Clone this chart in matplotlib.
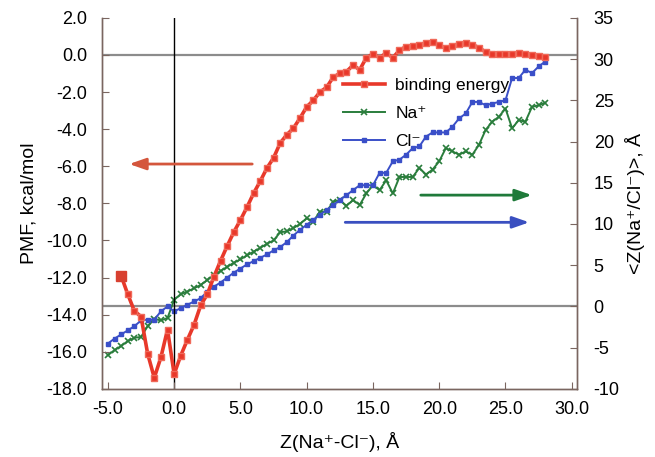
import numpy as np
import matplotlib
matplotlib.use("Agg")
import matplotlib.pyplot as plt

plt.rcParams['font.family'] = ['Liberation Sans', 'DejaVu Sans']

# binding energy (PMF, kcal/mol) on the left axis
red_x = np.arange(-4.0, 28.01, 0.5)
red_y = [-11.9, -12.9, -13.8, -14.1, -16.1, -17.4, -16.3, -14.8, -17.2, -16.2,
         -15.35, -14.55, -13.5, -12.9, -11.95, -11.1, -10.3, -9.55, -8.9, -8.2,
         -7.45, -6.8, -6.1, -5.55, -4.75, -4.3, -3.95, -3.4, -2.8, -2.45,
         -2.0, -1.75, -1.2, -1.0, -0.9, -0.55, -0.8, -0.15, 0.05, -0.15,
         0.1, -0.15, 0.25, 0.45, 0.5, 0.55, 0.65, 0.7, 0.55, 0.35,
         0.5, 0.6, 0.65, 0.55, 0.4, 0.15, 0.05, 0.05, 0.05, 0.05,
         0.1, 0.05, 0.0, -0.05, -0.1]

# <Z> of Na+ and Cl- on the right axis
ion_x = np.arange(-5.0, 28.01, 0.5)
na_y = [-5.9, -5.3, -4.8, -4.2, -3.8, -3.7, -2.4, -1.5, -1.7, -1.4,
        0.8, 1.5, 1.8, 2.2, 2.6, 3.2, 3.8, 4.3, 4.8, 5.3,
        5.7, 6.2, 6.65, 7.1, 7.6, 8.0, 9.0, 9.1, 9.5, 10.0,
        10.7, 10.3, 11.5, 11.5, 12.7, 12.9, 12.2, 12.9, 12.3, 13.7,
        14.7, 14.1, 15.3, 13.7, 15.7, 15.7, 15.7, 16.8, 16.0, 16.6,
        17.6, 19.2, 18.8, 18.4, 18.8, 18.4, 19.6, 21.4, 22.4, 23.0,
        24.0, 21.6, 22.6, 22.4, 24.2, 24.4, 24.7]
cl_y = [-4.5, -3.9, -3.4, -2.9, -2.4, -1.7, -1.6, -1.6, -0.6, 0.0,
        -0.6, -0.2, 0.2, 0.6, 1.0, 1.8, 2.4, 2.9, 3.5, 4.1,
        4.6, 5.1, 5.5, 5.9, 6.3, 6.8, 7.2, 7.8, 8.6, 9.3,
        9.9, 10.5, 11.1, 11.7, 12.3, 12.9, 13.5, 14.1, 14.7, 14.7,
        14.7, 16.2, 16.2, 17.6, 17.8, 18.4, 19.2, 19.4, 20.6, 21.1,
        21.1, 21.1, 21.8, 22.8, 23.4, 24.8, 24.8, 24.4, 24.6, 24.8,
        25.0, 27.7, 27.7, 28.7, 28.3, 29.1, 29.7]

x_ticks = np.arange(-5, 30.1, 5)
left_ticks = np.arange(-18, 2.1, 2)
right_ticks = np.arange(-10, 35.1, 5)

RED = '#e8382a'
GREEN = '#2a7d3c'
BLUE = '#3a4fc8'
SPINE = '#7a6660'

fig = plt.figure(figsize=(6.55, 4.57), dpi=100)
ax = fig.add_axes([0.156, 0.149, 0.725, 0.812])
ax2 = ax.twinx()

ax.set_xlim(-5.43, 30.4)
ax.set_ylim(-18, 2)
ax2.set_ylim(-10, 35)

# reference lines
ax.axhline(0, color='#8c8c8c', lw=1.6, zorder=1)
ax2.axhline(0, color='#8c8c8c', lw=1.6, zorder=1)
ax.axvline(0, color='black', lw=1.0, zorder=1)

l_red, = ax.plot(red_x, red_y, '-s', color=RED, lw=2.6, ms=4,
                 mec='#f06a5a', mfc=RED, zorder=5, label='binding energy')
ax.plot(red_x[:1], red_y[:1], 's', color='#d84030', ms=7, zorder=6)
l_na, = ax2.plot(ion_x, na_y, '-x', color=GREEN, lw=1.4, ms=4, mew=1.2,
                 label='Na⁺')
l_cl, = ax2.plot(ion_x, cl_y, '-s', color=BLUE, lw=1.4, ms=3,
                 label='Cl⁻')
ax.set_zorder(ax2.get_zorder() + 1)
ax.patch.set_visible(False)

# direction arrows
ax.annotate('', xy=(-3.6, -5.88), xytext=(6.1, -5.88),
            arrowprops=dict(arrowstyle='-|>,head_length=1.0,head_width=0.35',
                            color='#d4563c', lw=2))
ax2.annotate('', xy=(27.2, 13.5), xytext=(18.4, 13.5),
             arrowprops=dict(arrowstyle='-|>,head_length=1.0,head_width=0.35',
                             color='#1f7a3a', lw=2))
ax2.annotate('', xy=(27.0, 10.2), xytext=(12.7, 10.2),
             arrowprops=dict(arrowstyle='-|>,head_length=1.0,head_width=0.35',
                             color='#3a4fc0', lw=2))

ax.legend(handles=[l_red, l_na, l_cl], loc='upper left',
          bbox_to_anchor=(0.475, 0.88), frameon=False, fontsize=12.5,
          handlelength=2.4, handletextpad=0.6, labelspacing=0.75)

ax.set_xticks(x_ticks)
ax.set_xticklabels([f'{v:.1f}' for v in x_ticks])
ax.set_yticks(left_ticks)
ax.set_yticklabels([f'{v:.1f}' for v in left_ticks])
ax2.set_yticks(right_ticks)
ax2.set_yticklabels([f'{v:d}' for v in right_ticks.astype(int)])

ax.tick_params(axis='x', direction='in', length=5, labelsize=13,
               color=SPINE, pad=9)
ax.tick_params(axis='y', direction='in', length=5, labelsize=13,
               color=SPINE, pad=11)
ax2.tick_params(axis='y', direction='in', length=5, labelsize=13,
                color=SPINE, pad=12)

for a in (ax, ax2):
    a.spines['top'].set_visible(False)
    for s in ('left', 'right', 'bottom'):
        a.spines[s].set_color(SPINE)
        a.spines[s].set_linewidth(1.0)

ax.set_xlabel('Z(Na⁺-Cl⁻), Å', fontsize=14, labelpad=10)
ax.set_ylabel('PMF, kcal/mol', fontsize=14, labelpad=6)
ax2.set_ylabel('<Z(Na⁺/Cl⁻)>, Å', fontsize=14, labelpad=4)

fig.savefig('out.png', dpi=100)
